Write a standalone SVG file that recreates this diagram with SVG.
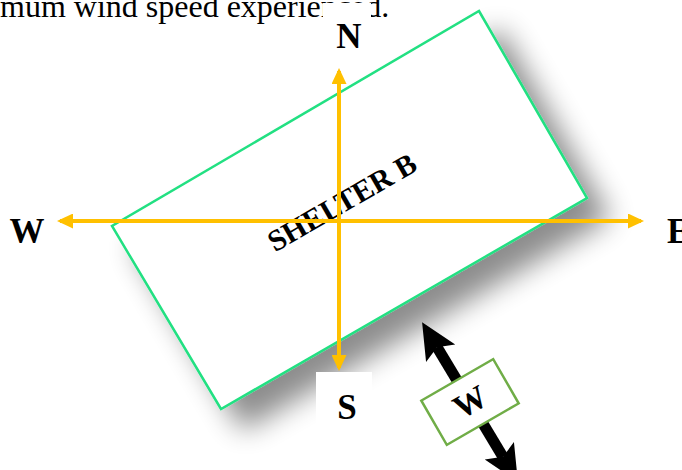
<svg xmlns="http://www.w3.org/2000/svg" width="682" height="470" viewBox="0 0 682 470">
<defs>
<style>
.lbl{font-family:"Liberation Serif","Times New Roman",serif;font-weight:bold;fill:#000;text-anchor:middle}
.axis{stroke:#FFC000;stroke-width:4;fill:none;marker-start:url(#oa);marker-end:url(#oa)}
.cover{fill:#fff}
</style>
<marker id="oa" viewBox="0 0 16 15" markerUnits="userSpaceOnUse" markerWidth="16" markerHeight="15" refX="13" refY="7.5" orient="auto-start-reverse">
<path d="M0,0 L16,7.5 L0,15 z" fill="#FFC000"/>
</marker>
<filter id="sh" x="-30%" y="-30%" width="160%" height="160%">
<feGaussianBlur in="SourceAlpha" stdDeviation="14"/>
<feOffset dx="22" dy="20" result="b"/>
<feComponentTransfer in="b" result="c"><feFuncA type="linear" slope="0.45"/></feComponentTransfer>
<feMerge><feMergeNode in="c"/><feMergeNode in="SourceGraphic"/></feMerge>
</filter>
</defs>
<rect width="682" height="470" fill="#fff"/>
<text x="0" y="17" font-family="'Liberation Serif','Times New Roman',serif" font-size="32" fill="#000">mum wind speed experienced.</text>
<g id="shelter">
<polygon points="479,11 587,198 221,409 112,226" fill="#fff" stroke="#22E082" stroke-width="2.5" filter="url(#sh)"/>
<text class="lbl" x="0" y="0" font-size="30" transform="translate(347,211) rotate(-30)">SHELTER B</text>
</g>
<g id="label-N"><rect class="cover" x="323" y="3" width="48" height="57"/><text class="lbl" x="349" y="48" font-size="35">N</text></g>
<g id="label-S"><rect class="cover" x="316" y="372" width="56" height="98"/><text class="lbl" x="347" y="419" font-size="35">S</text></g>
<g id="label-E"><rect class="cover" x="647" y="195" width="35" height="60"/><text x="667" y="243" font-family="'Liberation Serif','Times New Roman',serif" font-weight="bold" font-size="35">E</text></g>
<g id="label-W"><text class="lbl" x="27" y="243" font-size="35">W</text></g>
<g id="connectors">
<line class="axis" x1="60" y1="221" x2="641" y2="221"/>
<line class="axis" x1="339" y1="71" x2="339" y2="368"/>
<g transform="translate(470,402) rotate(59)">
<rect x="-64" y="-5.5" width="128" height="11" fill="#000"/>
<polygon points="-93,0 -57,-17 -64,0 -57,17" fill="#000"/>
<polygon points="93,0 57,-17 64,0 57,17" fill="#000"/>
</g>
</g>
<g id="wind-box" transform="translate(470,402) rotate(-30)">
<rect x="-41.5" y="-25.5" width="83" height="51" fill="#fff" stroke="#70AD47" stroke-width="2.5"/>
<text class="lbl" x="0" y="11" font-size="33">W</text>
</g>
</svg>
